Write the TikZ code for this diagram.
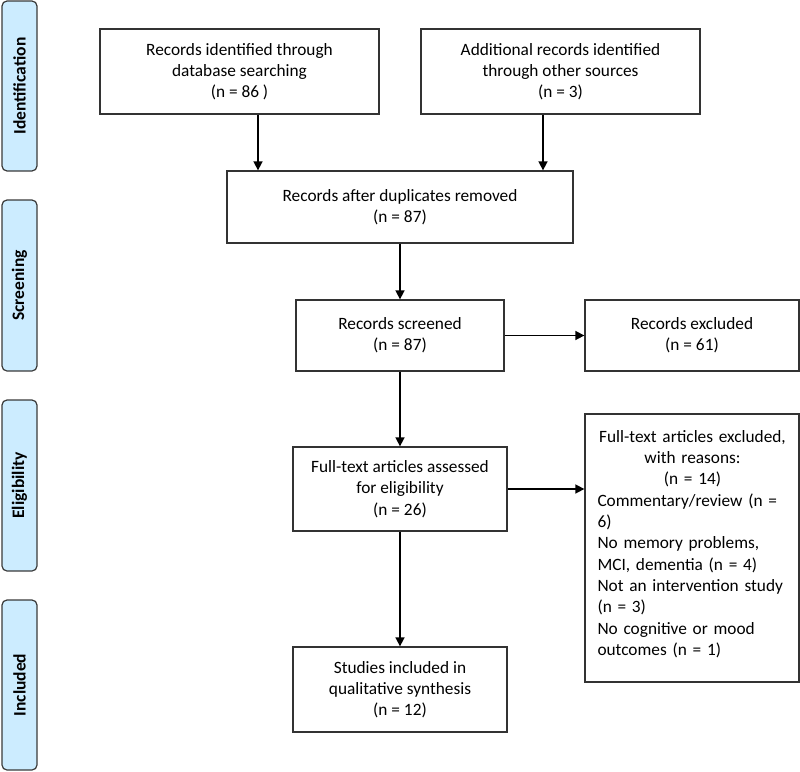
\documentclass[tikz,border=0pt]{standalone}
\usepackage{fontspec}
\setmainfont{Carlito}
\usetikzlibrary{arrows.meta}
\definecolor{lblfill}{HTML}{CCECFF}
\definecolor{lbldraw}{HTML}{3A3A3A}
\definecolor{boxdraw}{HTML}{333333}
\begin{document}
\begin{tikzpicture}[x=1pt,y=-1pt,
  every node/.style={font=\fontsize{17.3}{21.3}\selectfont},
  stage/.style={draw=lbldraw, fill=lblfill, line width=1.2pt, rounded corners=5pt,
    minimum width=35pt, inner sep=0pt},
  stagetext/.style={rotate=90, font=\fontsize{17.5}{21}\selectfont\bfseries},
  flowbox/.style={draw=boxdraw, line width=1.3pt, inner sep=0pt, align=center},
  arr/.style={line width=1.6pt, -{Triangle[length=9pt,width=9pt]}}
]
\useasboundingbox (0,0) rectangle (800,771);

% stage labels
\node[stage, minimum height=170pt] (s1) at (19.5,86) {};
\node[stagetext] at (s1) {Identification};
\node[stage, minimum height=171pt] (s2) at (19.5,285.5) {};
\node[stagetext] at (s2) {Screening};
\node[stage, minimum height=171pt] (s3) at (19.5,485.5) {};
\node[stagetext] at (s3) {Eligibility};
\node[stage, minimum height=170pt] (s4) at (19.5,685) {};
\node[stagetext] at (s4) {Included};

% boxes
\node[flowbox, minimum width=279pt, minimum height=85pt] (b1) at (239.5,71.5)
  {Records identified through\\database searching\\(n = 86 )};
\node[flowbox, minimum width=279pt, minimum height=85pt] (b2) at (560.5,71.5)
  {Additional records identified\\through other sources\\(n = 3)};
\node[flowbox, minimum width=346pt, minimum height=72pt] (b3) at (400,207)
  {Records after duplicates removed\\(n = 87)};
\node[flowbox, minimum width=208pt, minimum height=71pt] (b4) at (400,335.5)
  {Records screened\\(n = 87)};
\node[flowbox, minimum width=214pt, minimum height=71pt] (b5) at (692,335.5)
  {Records excluded\\(n = 61)};
\node[flowbox, minimum width=214pt, minimum height=84pt] (b6) at (400,489)
  {Full-text articles assessed\\for eligibility\\(n = 26)};
\node[draw=boxdraw, line width=1.3pt, minimum width=214pt, minimum height=268pt, inner sep=0pt] (b7) at (692,548) {};
\node[text width=190pt, align=left, inner sep=0pt] (b7t) at (692.5,544)
  {{\centering Full-text articles excluded,\\with reasons:\\(n = 14)\par}
   Commentary/review (n =\\6)\\No memory problems,\\MCI, dementia (n = 4)\\Not an intervention study\\(n = 3)\\No cognitive or mood\\outcomes (n = 1)};
\node[flowbox, minimum width=214pt, minimum height=85pt] (b8) at (400,689.5)
  {Studies included in\\qualitative synthesis\\(n = 12)};

% connectors
\draw[arr] ([xshift=18.5pt]b1.south) -- ([xshift=18.5pt]b1.south |- b3.north);
\draw[arr] ([xshift=-17.5pt]b2.south) -- ([xshift=-17.5pt]b2.south |- b3.north);
\draw[arr] (b3.south) -- (b4.north);
\draw[arr] (b4.east) -- (b5.west);
\draw[arr] (b4.south) -- (b6.north);
\draw[arr] (b6.east) -- (b6.east -| b7.west);
\draw[arr] (b6.south) -- (b8.north);
\end{tikzpicture}
\end{document}
